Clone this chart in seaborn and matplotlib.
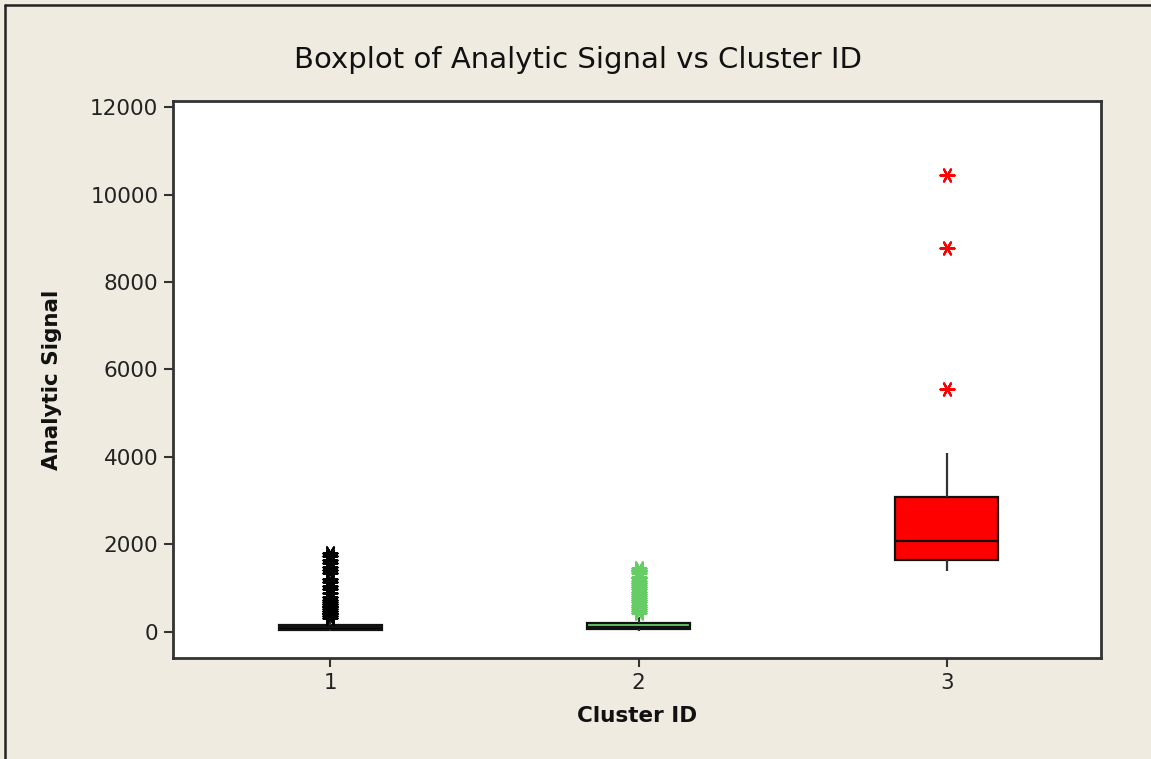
import matplotlib
matplotlib.use("Agg")
import matplotlib.pyplot as plt
import seaborn as sns
import pandas as pd
from matplotlib.lines import Line2D

# ---- data ----
cluster_ids = ["1", "2", "3"]
colors = ["#000000", "#66CC66", "#FF0000"]

# core values (min-whisker, Q1, median, Q3, max-whisker)
core_1 = [20, 50, 100, 160, 280]
core_2 = [20, 60, 120, 210, 330]
core_3 = [1394, 1646, 2080, 3086, 4091]

# outliers
out_1 = [320, 360, 400, 440, 480, 520, 560, 600, 640, 680, 730, 800, 890,
         970, 1050, 1130, 1210, 1350, 1420, 1490, 1570, 1650, 1730, 1800]
out_2 = [420, 470, 520, 570, 620, 670, 720, 770, 820, 870, 920, 970, 1020,
         1070, 1120, 1170, 1220, 1260, 1340, 1380, 1420, 1460]
out_3 = [5554, 8777, 10446]

yticks = [0, 2000, 4000, 6000, 8000, 10000, 12000]

title = "Boxplot of Analytic Signal vs Cluster ID"
xlabel = "Cluster ID"
ylabel = "Analytic Signal"

# ---- build tables ----
core_df = pd.DataFrame({
    "cluster": ["1"] * len(core_1) + ["2"] * len(core_2) + ["3"] * len(core_3),
    "value": core_1 + core_2 + core_3,
})
out_df = pd.DataFrame({
    "cluster": ["1"] * len(out_1) + ["2"] * len(out_2) + ["3"] * len(out_3),
    "value": out_1 + out_2 + out_3,
})

sns.set_theme(style="white")
plt.rcParams["font.family"] = ["DejaVu Sans"]

bg = "#EFEBE1"
fig = plt.figure(figsize=(11.51, 7.59), dpi=100, facecolor=bg)
ax = fig.add_axes([173 / 1151, 1 - 658 / 759, (1101 - 173) / 1151, (658 - 101) / 759])
ax.set_facecolor("white")

palette = dict(zip(cluster_ids, colors))

sns.boxplot(data=core_df, x="cluster", y="value", hue="cluster", order=cluster_ids,
            hue_order=cluster_ids, palette=palette, saturation=1, legend=False,
            width=0.335, showfliers=False, showcaps=False, whis=1.5, ax=ax,
            boxprops=dict(edgecolor="#111111", linewidth=1.6),
            medianprops=dict(color="#111111", linewidth=1.6),
            whiskerprops=dict(color="#333333", linewidth=1.6))

star = (6, 2, 90)
for cid, col in zip(cluster_ids, colors):
    sub = out_df[out_df["cluster"] == cid]
    sns.stripplot(data=sub, x="cluster", y="value", order=cluster_ids, jitter=False,
                  marker=star, color=col, size=10, linewidth=1.6, ax=ax,
                  native_scale=False)

ax.set_xlim(-0.51, 2.5)
ax.set_ylim(-600, 12140)
ax.set_yticks(yticks)
ax.set_yticklabels([str(v) for v in yticks])
ax.set_xticks(range(len(cluster_ids)))
ax.set_xticklabels(cluster_ids)

for s in ax.spines.values():
    s.set_visible(True)
    s.set_color("#333333")
    s.set_linewidth(2.0)

ax.tick_params(axis="both", which="major", direction="out", length=6.5, width=1.5,
               color="#333333", labelsize=15.5, labelcolor="#222222", pad=4)
ax.tick_params(axis="x", bottom=True, top=False)
ax.tick_params(axis="y", left=True, right=False)
ax.grid(False)

ax.set_xlabel(xlabel, fontsize=15.5, fontweight="bold", color="#111111", labelpad=10)
ax.set_ylabel(ylabel, fontsize=15.5, fontweight="bold", color="#111111", labelpad=20)

fig.text(578 / 1151, 1 - 60 / 759, title, ha="center", va="center",
         fontsize=21, color="#111111")

# outer window frame (left and top edges)
fig.add_artist(Line2D([5 / 1151, 5 / 1151], [0, 1 - 5 / 759], transform=fig.transFigure,
                      color="#222222", linewidth=1.8))
fig.add_artist(Line2D([5 / 1151, 1], [1 - 5 / 759, 1 - 5 / 759], transform=fig.transFigure,
                      color="#222222", linewidth=1.8))

fig.savefig("out.png", dpi=100, facecolor=bg)
